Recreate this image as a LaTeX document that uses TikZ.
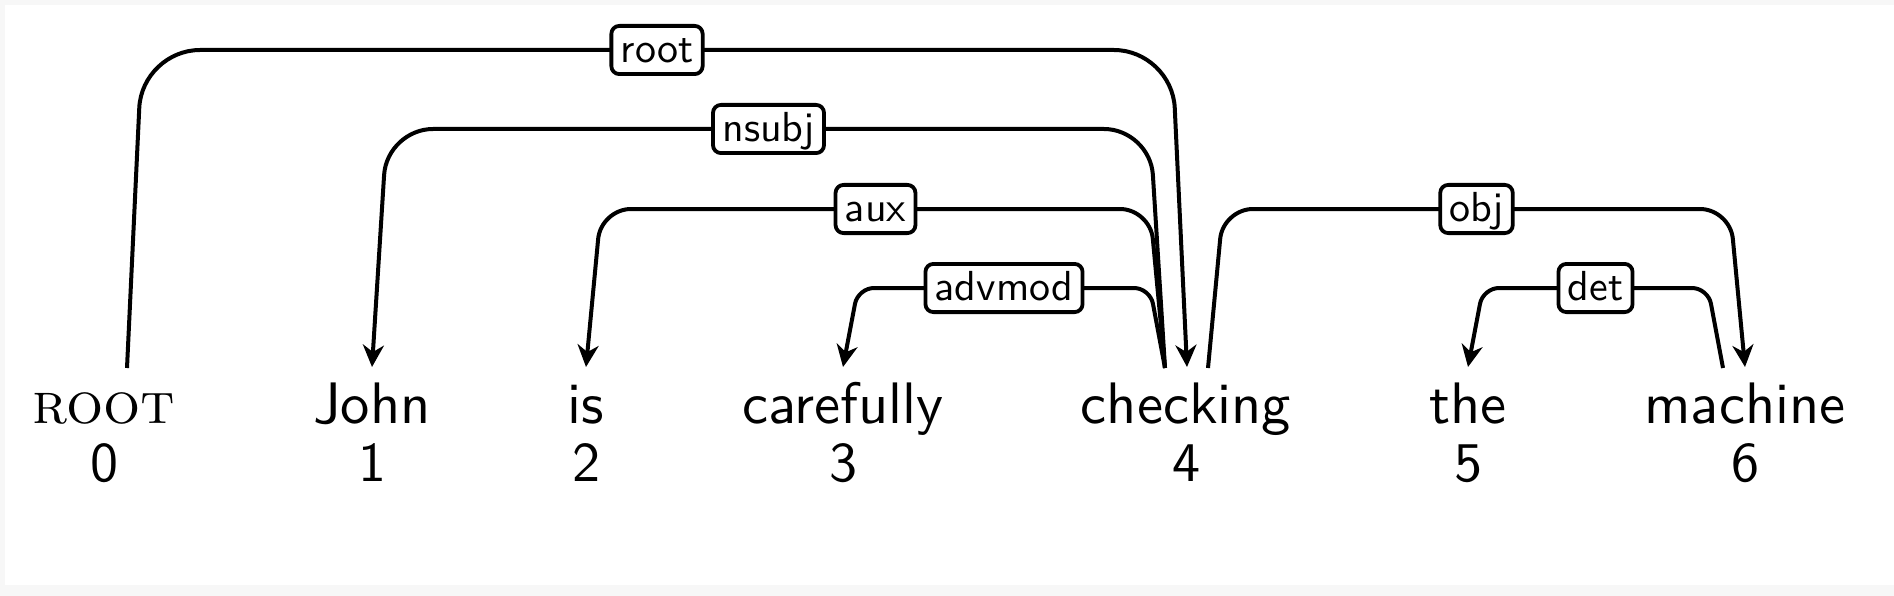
\documentclass[tikz,border=0pt]{standalone}
\usepackage{fontspec}
\newfontfamily\wordfont{lmsans10-regular.otf}
\newfontfamily\rootfont{lmromancaps10-regular.otf}
\usetikzlibrary{arrows.meta,calc}
\definecolor{bgray}{RGB}{247,247,247}
\tikzset{
  word/.style={font=\wordfont\fontsize{58.5}{60}\selectfont, inner sep=0pt, anchor=base},
  rootword/.style={font=\rootfont\fontsize{58.5}{60}\selectfont, inner sep=0pt, anchor=base},
  idx/.style={font=\wordfont\fontsize{56}{60}\selectfont, inner sep=0pt, anchor=base},
  dep/.style={line width=4pt, line join=round, -{Stealth[length=22pt,width=21pt,inset=7pt]}},
  lab/.style={draw, fill=white, line width=3.8pt, rounded corners=8pt,
    font=\wordfont\fontsize{42}{50}\selectfont, inner xsep=9.3pt, inner ysep=2.7pt,
    text height=33.6pt, text depth=9.2pt}
}
\begin{document}
\begin{tikzpicture}[x=1pt,y=-1pt]
\useasboundingbox (0,0) rectangle (1894,596);
\fill[bgray] (0,0) rectangle (1894,596);
\fill[white] (5,5) rectangle (1894,585);
% words
\node[rootword] (w0) at (104,423) {root};
\node[word] (w1) at (372,423) {John};
\node[word] (w2) at (586,423) {is};
\node[word] (w3) at (843,423) {carefully};
\node[word] (w4) at (1186,423) {checking};
\node[word] (w5) at (1468,423) {the};
\node[word] (w6) at (1745,423) {machine};
% indices
\node[idx] (n0) at (104,481) {0};
\node[idx] (n1) at (372,481) {1};
\node[idx] (n2) at (586,481) {2};
\node[idx] (n3) at (843,481) {3};
\node[idx] (n4) at (1186,481) {4};
\node[idx] (n5) at (1468,481) {5};
\node[idx] (n6) at (1745,481) {6};
% edge anchors
\coordinate (o0) at ($(w0.base)+(23,-55)$);
\coordinate (i1) at ($(w1.base)+(0,-56)$);
\coordinate (i2) at ($(w2.base)+(0,-56)$);
\coordinate (i3) at ($(w3.base)+(0,-56)$);
\coordinate (i4) at ($(w4.base)+(1,-56)$);
\coordinate (l4) at ($(w4.base)+(-21,-55)$);
\coordinate (r4) at ($(w4.base)+(22,-55)$);
\coordinate (i5) at ($(w5.base)+(0,-56)$);
\coordinate (i6) at ($(w6.base)+(0,-56)$);
\coordinate (l6) at ($(w6.base)+(-22,-55)$);
% edges
\draw[dep, rounded corners=58pt] (o0) -- ++(15,-318) -- node[lab]{root} ($(i4)+(-15,-317)$) -- (i4);
\draw[dep, rounded corners=46pt] (l4) -- ++(-15,-239) -- node[lab]{nsubj} ($(i1)+(15,-238)$) -- (i1);
\draw[dep, rounded corners=30pt] (l4) -- ++(-15,-159) -- node[lab]{aux} ($(i2)+(15,-158)$) -- (i2);
\draw[dep, rounded corners=16pt] (l4) -- ++(-15,-80) -- node[lab]{advmod} ($(i3)+(15,-79)$) -- (i3);
\draw[dep, rounded corners=30pt] (r4) -- ++(15,-159) -- node[lab]{obj} ($(i6)+(-15,-158)$) -- (i6);
\draw[dep, rounded corners=16pt] (l6) -- ++(-15,-80) -- node[lab]{det} ($(i5)+(15,-79)$) -- (i5);
\end{tikzpicture}
\end{document}
